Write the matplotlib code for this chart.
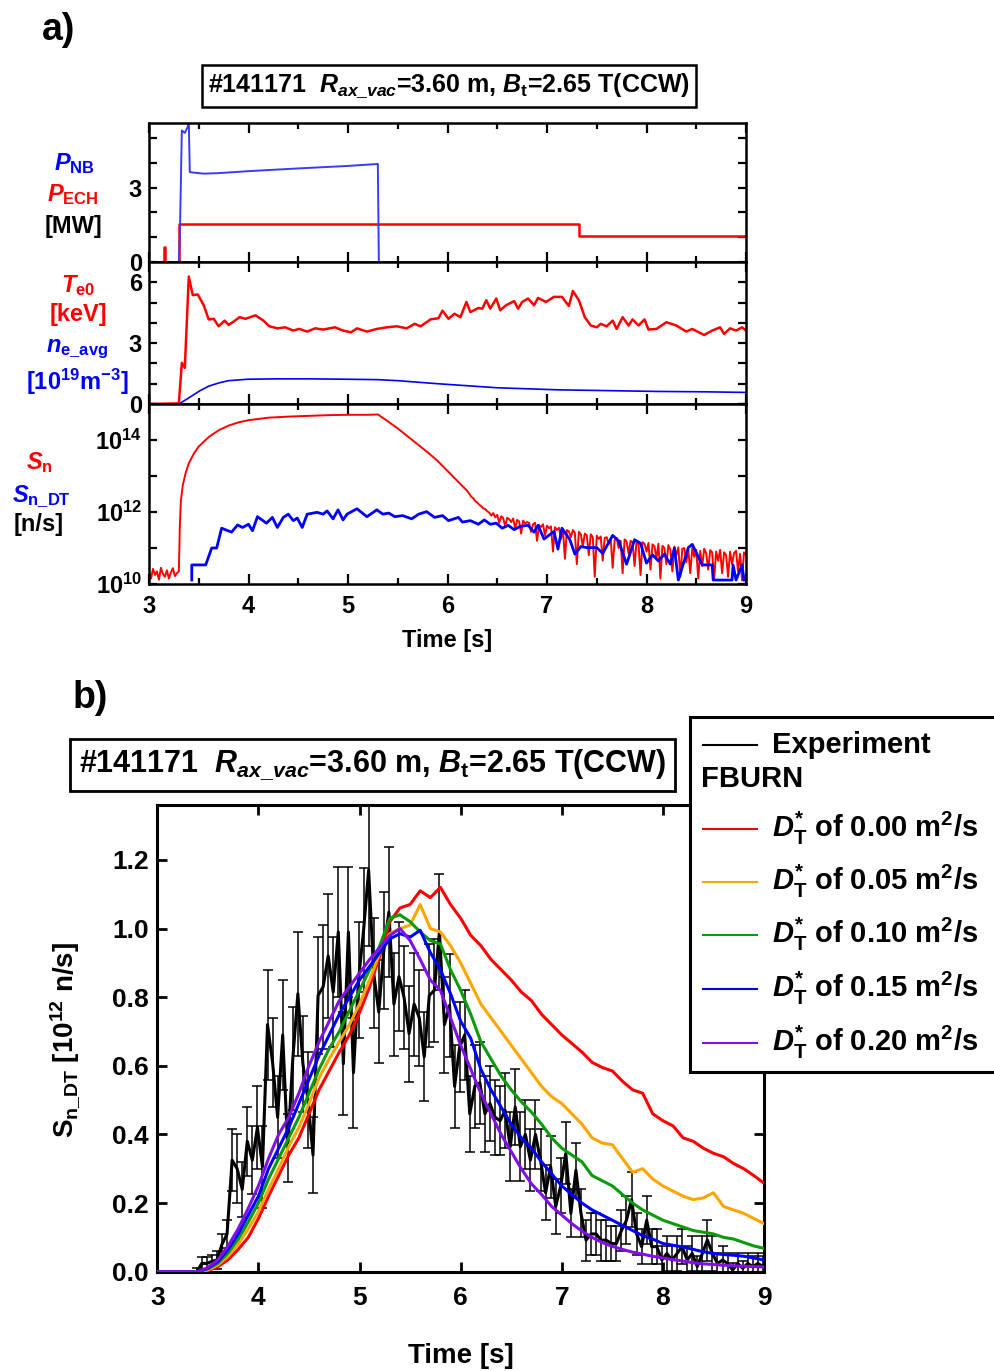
import numpy as np
import matplotlib
matplotlib.use('Agg')
import matplotlib.pyplot as plt
from matplotlib.ticker import FixedLocator, FixedFormatter, MultipleLocator, NullLocator

plt.rcParams['font.family'] = ['Liberation Sans', 'DejaVu Sans']
plt.rcParams['font.weight'] = 'bold'
plt.rcParams['mathtext.fontset'] = 'custom'
plt.rcParams['mathtext.rm'] = 'Liberation Sans:bold'
plt.rcParams['mathtext.it'] = 'Liberation Sans:bold:italic'
plt.rcParams['mathtext.bf'] = 'Liberation Sans:bold'
plt.rcParams['mathtext.sf'] = 'Liberation Sans:bold'

# ---------------- panel a data ----------------
# heating power [MW]
pnb_t = [3.00, 3.30, 3.31, 3.33, 3.36, 3.39, 3.40, 3.41, 3.45, 3.55, 3.70, 4.00, 4.50, 5.00, 5.30, 5.31, 9.00]
pnb = [0.0, 0.0, 1.0, 5.30, 5.20, 5.45, 5.65, 3.62, 3.60, 3.56, 3.58, 3.66, 3.77, 3.87, 3.95, 0.0, 0.0]
pech_t = [3.00, 3.155, 3.155, 3.165, 3.165, 3.30, 3.30, 7.32, 7.32, 9.00]
pech = [0.0, 0.0, 0.60, 0.60, 0.0, 0.0, 1.55, 1.55, 1.04, 1.04]

# central electron temperature [keV]
te_t = [3.00, 3.30, 3.33, 3.36, 3.40, 3.44, 3.49, 3.55, 3.60, 3.65,
        3.70, 3.76, 3.80, 3.85, 3.91, 3.97, 4.07, 4.15, 4.21, 4.29,
        4.37, 4.45, 4.51, 4.59, 4.67, 4.75, 4.87, 4.95, 5.03, 5.09,
        5.19, 5.29, 5.39, 5.49, 5.59, 5.67, 5.73, 5.83, 5.91, 5.95,
        6.01, 6.07, 6.13, 6.19, 6.23, 6.31, 6.35, 6.39, 6.43, 6.49,
        6.53, 6.59, 6.67, 6.71, 6.75, 6.81, 6.87, 6.91, 6.99, 7.07,
        7.15, 7.22, 7.26, 7.32, 7.38, 7.44, 7.50, 7.54, 7.60, 7.66,
        7.70, 7.76, 7.82, 7.86, 7.92, 7.98, 8.02, 8.10, 8.20, 8.30,
        8.40, 8.46, 8.58, 8.66, 8.74, 8.78, 8.84, 8.90, 8.96, 9.00]
te0 = [0.0, 0.03, 2.03, 1.78, 6.28, 5.37, 5.40, 4.87, 4.17, 4.20,
       3.83, 4.11, 3.90, 4.06, 4.28, 4.20, 4.37, 4.11, 3.83, 3.73,
       3.78, 3.62, 3.70, 3.57, 3.73, 3.67, 3.78, 3.62, 3.53, 3.73,
       3.57, 3.70, 3.78, 3.83, 3.73, 3.95, 3.83, 4.17, 4.23, 4.60,
       4.20, 4.45, 4.28, 5.03, 4.53, 4.73, 4.70, 5.12, 4.70, 5.20,
       4.62, 4.87, 5.07, 4.70, 5.03, 5.20, 4.87, 5.23, 5.03, 5.28,
       5.28, 4.83, 5.57, 5.12, 4.28, 3.87, 3.78, 3.95, 3.83, 4.11,
       3.70, 4.28, 3.87, 4.17, 3.87, 4.17, 3.67, 3.70, 4.03, 3.87,
       3.57, 3.70, 3.40, 3.62, 3.78, 3.45, 3.73, 3.62, 3.78, 3.62]

# line averaged density [1e19 m^-3]
ne_t = [3.00, 3.30, 3.40, 3.51, 3.60, 3.71, 3.80, 3.99, 4.30, 4.62, 5.00,
        5.30, 5.50, 5.90, 6.20, 6.50, 7.10, 7.60, 8.10, 8.60, 9.00]
ne_avg = [0.0, 0.0, 0.30, 0.65, 0.88, 1.05, 1.15, 1.22, 1.24, 1.24, 1.22,
          1.20, 1.15, 1.00, 0.90, 0.80, 0.70, 0.66, 0.62, 0.60, 0.57]

# total neutron rate, log10 [n/s]
sn_pre = [10.30, 10.15, 10.42, 10.25, 10.35, 10.12, 10.45, 10.28, 10.20, 10.38,
          10.15, 10.32, 10.44, 10.22, 10.30]
sn_mid_t = [3.30, 3.31, 3.32, 3.34, 3.37, 3.40, 3.45, 3.50, 3.60, 3.70,
            3.80, 3.90, 4.00, 4.20, 4.40, 4.60, 4.80, 5.00, 5.20, 5.30,
            5.40, 5.50, 5.60, 5.70, 5.80, 5.90, 6.00, 6.10]
sn_mid = [10.35, 11.60, 12.30, 12.75, 13.10, 13.35, 13.62, 13.82, 14.08, 14.27,
          14.40, 14.49, 14.55, 14.62, 14.65, 14.67, 14.69, 14.70, 14.70, 14.71,
          14.52, 14.32, 14.10, 13.88, 13.66, 13.42, 13.14, 12.86]
sn_post = [12.58, 12.50, 12.42, 12.38, 12.30, 12.26, 12.20, 12.16, 12.10, 12.08, 12.02,
           11.98, 11.90, 11.97, 11.85, 11.92, 11.70, 11.88, 11.83, 11.60, 11.84,
           11.80, 11.72, 11.82, 11.55, 11.78, 11.74, 11.40, 11.76, 11.68, 11.72,
           11.70, 11.45, 11.66, 11.70, 11.20, 11.64, 11.58, 11.66, 11.35, 11.62,
           11.55, 11.60, 10.90, 11.58, 11.50, 11.56, 11.25, 11.52, 10.70, 11.50,
           11.46, 11.30, 11.50, 11.42, 10.55, 11.45, 11.38, 11.05, 11.40, 11.35,
           10.80, 11.38, 11.30, 10.20, 11.34, 11.25, 11.32, 10.65, 11.28, 11.30,
           11.10, 11.27, 10.45, 11.22, 11.28, 11.00, 11.20, 10.30, 11.24, 11.18,
           10.85, 11.20, 11.15, 10.50, 11.18, 11.10, 10.25, 11.16, 11.12, 10.90,
           11.14, 10.40, 11.10, 11.05, 10.70, 11.12, 10.15, 11.06, 11.00, 10.55,
           11.08, 10.95, 10.35, 11.04, 10.80, 11.02, 10.20, 10.98, 11.00, 10.60,
           10.96, 10.30, 11.00, 10.75, 10.95, 10.15, 10.92, 10.50, 10.98, 10.85,
           10.40, 10.94, 10.88, 10.12, 10.90, 10.65, 10.95, 10.30, 10.88, 10.80,
           10.20, 10.90, 10.55, 10.86, 10.92, 10.35, 10.84, 10.10, 10.88, 10.80]

# DT neutron rate, log10 [n/s]
sndt_t = [3.43, 3.43, 3.57, 3.63, 3.68, 3.73, 3.83, 3.89, 3.94, 4.00,
          4.04, 4.09, 4.18, 4.24, 4.29, 4.35, 4.40, 4.45, 4.49, 4.54,
          4.59, 4.69, 4.75, 4.79, 4.85, 4.90, 4.95, 4.99, 5.09, 5.19,
          5.29, 5.35, 5.41, 5.47, 5.55, 5.64, 5.71, 5.79, 5.87, 5.95,
          6.01, 6.11, 6.15, 6.23, 6.31, 6.37, 6.43, 6.49, 6.55, 6.61,
          6.67, 6.73, 6.81, 6.87, 6.91, 6.97, 7.07, 7.11, 7.15, 7.23,
          7.28, 7.34, 7.40, 7.50, 7.56, 7.66, 7.72, 7.80, 7.88, 7.94,
          8.00, 8.06, 8.12, 8.18, 8.24, 8.28, 8.32, 8.42, 8.46, 8.56,
          8.66, 8.67, 8.86, 8.87, 8.90, 8.96, 8.98]
sndt_log = [10.11, 10.53, 10.53, 11.00, 11.00, 11.55, 11.44, 11.64, 11.57, 11.66,
            11.48, 11.87, 11.69, 11.85, 11.57, 11.85, 11.94, 11.76, 11.83, 11.57,
            11.94, 11.99, 11.94, 12.03, 11.81, 12.06, 11.78, 11.94, 12.09, 11.87,
            12.06, 11.94, 11.97, 11.87, 11.90, 11.81, 11.94, 12.01, 11.85, 11.90,
            11.76, 11.85, 11.72, 11.76, 11.66, 11.78, 11.66, 11.69, 11.55, 11.63,
            11.51, 11.60, 11.63, 11.44, 11.63, 11.25, 11.46, 10.97, 11.55, 11.23,
            10.83, 11.04, 11.01, 11.01, 10.85, 11.35, 11.20, 10.55, 11.23, 11.13,
            10.58, 10.81, 10.64, 10.83, 10.55, 11.00, 10.11, 11.01, 11.10, 10.53,
            10.53, 10.11, 10.11, 10.53, 10.11, 10.53, 10.11]

# ---------------- panel b data ----------------
exp_v = [0.0, 0.024, 0.024, 0.03, 0.034, 0.08, 0.11, 0.325, 0.30, 0.24,
         0.38, 0.325, 0.42, 0.306, 0.72, 0.61, 0.45, 0.69, 0.36, 0.62,
         0.81, 0.606, 0.50, 0.34, 0.805, 0.83, 0.92, 0.815, 0.99, 0.606,
         0.99, 0.58, 0.85, 0.995, 1.17, 0.87, 0.757, 0.936, 1.048, 0.78,
         0.86, 0.80, 0.694, 0.78, 0.74, 0.626, 0.805, 0.82, 0.99, 0.72,
         0.776, 0.54, 0.655, 0.69, 0.46, 0.54, 0.55, 0.46, 0.49, 0.45,
         0.44, 0.47,
         0.364, 0.48, 0.364, 0.40, 0.325, 0.40, 0.325, 0.23, 0.306, 0.19,
         0.25, 0.345, 0.17, 0.296, 0.17, 0.092, 0.11, 0.11, 0.092, 0.092,
         0.082, 0.082, 0.12, 0.15, 0.21, 0.11, 0.073, 0.15, 0.073, 0.073,
         0.034, 0.053, 0.034, 0.053, 0.073, 0.034, 0.053, 0.015, 0.053, 0.092,
         0.053, 0.024, 0.034, 0.024, 0.005, 0.024, 0.01, 0.024, 0.015, 0.024,
         0.015]
exp_err = [0.01, 0.02, 0.02, 0.02, 0.025, 0.03, 0.04, 0.09, 0.10, 0.08,
           0.10, 0.10, 0.12, 0.12, 0.16, 0.13, 0.12, 0.16, 0.10, 0.15,
           0.18, 0.14, 0.14, 0.11, 0.17, 0.18, 0.18, 0.16, 0.19, 0.15,
           0.19, 0.16, 0.17, 0.18, 0.22, 0.16, 0.15, 0.17, 0.19, 0.15,
           0.16, 0.15, 0.14, 0.15, 0.14, 0.13, 0.15, 0.15, 0.17, 0.14,
           0.15, 0.12, 0.13, 0.13, 0.11, 0.12, 0.12, 0.11, 0.11, 0.11,
           0.10, 0.11,
           0.10, 0.11, 0.10, 0.10, 0.09, 0.10, 0.09, 0.08, 0.09, 0.08,
           0.08, 0.09, 0.07, 0.08, 0.07, 0.06, 0.06, 0.06, 0.06, 0.06,
           0.05, 0.05, 0.06, 0.07, 0.08, 0.06, 0.05, 0.07, 0.05, 0.05,
           0.04, 0.05, 0.04, 0.05, 0.05, 0.04, 0.05, 0.03, 0.05, 0.06,
           0.05, 0.03, 0.04, 0.03, 0.02, 0.03, 0.02, 0.03, 0.03, 0.03,
           0.03]
exp_t = 3.39 + 0.05 * np.arange(len(exp_v))   # 50 ms sampling

# FBURN results on a 0.1 s grid, 3.0 ... 9.0 s
fb_t = np.round(np.arange(3.0, 9.001, 0.1), 2)
fb_d000 = [0, 0, 0, 0, 0, 0.003, 0.015, 0.035, 0.065, 0.10,
           0.155, 0.22, 0.28, 0.34, 0.39, 0.46, 0.53, 0.585, 0.64, 0.69,
           0.755, 0.83, 0.92, 1.02, 1.06, 1.07, 1.11, 1.09, 1.12, 1.07,
           1.03, 0.98, 0.95, 0.91, 0.88, 0.85, 0.815, 0.79, 0.75, 0.72,
           0.69, 0.665, 0.64, 0.61, 0.595, 0.585, 0.555, 0.53, 0.52, 0.46,
           0.44, 0.425, 0.39, 0.38, 0.36, 0.345, 0.335, 0.315, 0.30, 0.28,
           0.258]
fb_d005 = [0, 0, 0, 0, 0, 0.005, 0.02, 0.045, 0.08, 0.125,
           0.175, 0.24, 0.30, 0.365, 0.42, 0.49, 0.565, 0.62, 0.67, 0.72,
           0.78, 0.85, 0.93, 0.985, 1.00, 1.01, 1.07, 1.00, 0.99, 0.95,
           0.90, 0.84, 0.78, 0.74, 0.70, 0.66, 0.62, 0.58, 0.54, 0.51,
           0.49, 0.46, 0.43, 0.39, 0.375, 0.37, 0.33, 0.29, 0.30, 0.27,
           0.25, 0.235, 0.22, 0.21, 0.215, 0.23, 0.19, 0.18, 0.17, 0.155,
           0.14]
fb_d010 = [0, 0, 0, 0, 0, 0.008, 0.025, 0.055, 0.095, 0.145,
           0.20, 0.27, 0.33, 0.39, 0.45, 0.52, 0.59, 0.65, 0.70, 0.76,
           0.82, 0.88, 0.95, 1.03, 1.04, 1.02, 0.99, 0.965, 0.955, 0.88,
           0.82, 0.75, 0.67, 0.62, 0.57, 0.53, 0.495, 0.465, 0.43, 0.39,
           0.36, 0.34, 0.32, 0.28, 0.265, 0.25, 0.225, 0.20, 0.18, 0.165,
           0.15, 0.14, 0.13, 0.12, 0.115, 0.11, 0.10, 0.095, 0.085, 0.075,
           0.068]
fb_d015 = [0, 0, 0, 0, 0, 0.01, 0.03, 0.065, 0.11, 0.165,
           0.22, 0.30, 0.36, 0.42, 0.49, 0.56, 0.63, 0.69, 0.75, 0.80,
           0.85, 0.89, 0.93, 0.97, 0.985, 0.975, 0.995, 0.93, 0.88, 0.81,
           0.73, 0.68, 0.59, 0.53, 0.48, 0.43, 0.39, 0.36, 0.32, 0.285,
           0.25, 0.225, 0.20, 0.18, 0.165, 0.15, 0.135, 0.12, 0.105, 0.095,
           0.082, 0.077, 0.072, 0.065, 0.058, 0.053, 0.05, 0.048, 0.045, 0.04,
           0.034]
fb_d020 = [0, 0, 0, 0, 0, 0.012, 0.035, 0.075, 0.125, 0.185,
           0.25, 0.33, 0.40, 0.45, 0.52, 0.60, 0.67, 0.73, 0.79, 0.83,
           0.87, 0.91, 0.945, 0.98, 1.00, 0.965, 0.91, 0.85, 0.82, 0.74,
           0.66, 0.59, 0.52, 0.46, 0.40, 0.35, 0.30, 0.256, 0.225, 0.19,
           0.165, 0.14, 0.118, 0.10, 0.085, 0.074, 0.065, 0.057, 0.051, 0.045,
           0.04, 0.035, 0.031, 0.026, 0.023, 0.021, 0.019, 0.017, 0.016, 0.015,
           0.014]
fb_curves = [fb_d000, fb_d005, fb_d010, fb_d015, fb_d020]
fb_labels = ['0.00', '0.05', '0.10', '0.15', '0.20']
fb_colors = ['#ff0000', '#ffa500', '#0a9a0a', '#0000ff', '#7f10e8']

title_txt = r'#141171  $R_{ax\_vac}$=3.60 m, $B_\mathrm{t}$=2.65 T(CCW)'

# ---------------- figure ----------------
W, H = 994, 1371
fig = plt.figure(figsize=(W / 100, H / 100), dpi=100)


def box(l, t, r, b):
    return [l / W, 1 - b / H, (r - l) / W, (b - t) / H]


def fx(px):
    return px / W


def fy(py):
    return 1 - py / H


def style_a(ax):
    for s in ax.spines.values():
        s.set_linewidth(1.8)
    ax.set_xlim(3, 9)
    ax.xaxis.set_major_locator(MultipleLocator(1))
    ax.xaxis.set_minor_locator(MultipleLocator(0.5))
    ax.tick_params(which='both', direction='in', top=True, right=True,
                   width=1.6, labelsize=17, pad=5)
    ax.tick_params(axis='x', which='major', length=7, pad=8)
    ax.tick_params(axis='x', which='minor', length=4.5)
    ax.tick_params(axis='y', which='both', length=6)


ax1 = fig.add_axes(box(149, 123, 746, 262))
ax2 = fig.add_axes(box(149, 262, 746, 404))
ax3 = fig.add_axes(box(149, 404, 746, 584))

# top: heating power
ax1.plot(pech_t, pech, color='#ff0000', lw=1.8)
ax1.plot(pnb_t, pnb, color='#3a3aff', lw=1.4)
ax1.set_ylim(0, 5.6)
ax1.yaxis.set_major_locator(FixedLocator([0, 3]))
ax1.yaxis.set_minor_locator(FixedLocator([1, 2, 4, 5]))
style_a(ax1)
ax1.tick_params(labelbottom=False)

# middle: Te0 and ne
ax2.plot(ne_t, ne_avg, color='#0000ff', lw=1.2)
ax2.plot(te_t, te0, color='#ff0000', lw=1.8)
ax2.set_ylim(0, 7)
ax2.yaxis.set_major_locator(FixedLocator([0, 3, 6]))
ax2.yaxis.set_minor_locator(FixedLocator([1, 2, 4, 5]))
style_a(ax2)
ax2.tick_params(labelbottom=False)

# bottom: neutron rates (log)
sn_t = np.concatenate([np.arange(3.00, 3.29, 0.02), sn_mid_t, np.arange(6.20, 9.001, 0.02)])
sn_log = np.array(sn_pre + sn_mid + sn_post)
ax3.plot(sn_t, 10 ** sn_log, color='#ff0000', lw=1.4)
ax3.plot(sndt_t, 10 ** np.array(sndt_log), color='#0000ff', lw=2.0)
ax3.set_yscale('log')
ax3.set_ylim(1e10, 1e15)
ax3.yaxis.set_major_locator(FixedLocator([1e10, 1e11, 1e12, 1e13, 1e14, 1e15]))
ax3.yaxis.set_major_formatter(FixedFormatter([r'$10^{10}$', '', r'$10^{12}$', '', r'$10^{14}$', '']))
ax3.yaxis.set_minor_locator(NullLocator())
style_a(ax3)
ax3.set_xlabel('Time [s]', fontsize=17, fontweight='bold', labelpad=8)

# side labels of panel a
side = [('$P_\\mathrm{NB}$', '#0000ff', 74, 164),
        ('$P_\\mathrm{ECH}$', '#ff0000', 73, 195),
        ('[MW]', 'black', 74, 227),
        ('$T_\\mathrm{e0}$', '#ff0000', 78, 286),
        ('[keV]', '#ff0000', 78, 314),
        ('$n_\\mathrm{e\\_avg}$', '#0000ff', 77, 349),
        ('[10$^{19}$m$^{-3}$]', '#0000ff', 77, 382),
        ('$S_\\mathrm{n}$', '#ff0000', 39, 463),
        ('$S_\\mathrm{n\\_DT}$', '#0000ff', 41, 497),
        ('[n/s]', 'black', 39, 525)]
for txt, col, px, py in side:
    fig.text(fx(px), fy(py), txt, color=col, fontsize=17, fontweight='bold',
             ha='center', va='center')

fig.text(fx(42), fy(40), 'a)', fontsize=27, fontweight='bold', ha='left', va='baseline')
fig.text(fx(449), fy(86), title_txt, fontsize=18, fontweight='bold', ha='center', va='center',
         bbox=dict(boxstyle='square,pad=0.25', fc='white', ec='black', lw=1.8))

# ---------------- panel b ----------------
axb = fig.add_axes(box(157.3, 805, 764, 1271.7))
axb.errorbar(exp_t, exp_v, yerr=exp_err, color='black', lw=2.2, elinewidth=1.1,
             capsize=3.6, capthick=1.1, zorder=2)
for vals, col in zip(fb_curves, fb_colors):
    axb.plot(fb_t, vals, color=col, lw=2.2, zorder=3)
axb.set_xlim(3, 9)
axb.set_ylim(0, 1.36)
axb.xaxis.set_major_locator(MultipleLocator(1))
axb.yaxis.set_major_locator(MultipleLocator(0.2))
axb.yaxis.set_major_formatter(plt.FormatStrFormatter('%.1f'))
for s in axb.spines.values():
    s.set_linewidth(2.2)
axb.tick_params(which='both', direction='in', top=True, right=True, length=7,
                width=2, labelsize=19)
axb.tick_params(axis='x', pad=10)
axb.tick_params(axis='y', pad=6)
axb.set_xlabel('Time [s]', fontsize=20, fontweight='bold', labelpad=24)
fig.text(fx(65), fy(1040), r'S$_\mathrm{n\_DT}$ [10$^{12}$ n/s]', fontsize=20,
         fontweight='bold', rotation=90, ha='center', va='center')

fig.text(fx(73), fy(708), 'b)', fontsize=27, fontweight='bold', ha='left', va='baseline')
fig.text(fx(372.5), fy(765), title_txt, fontsize=22, fontweight='bold', ha='center', va='center',
         bbox=dict(boxstyle='square,pad=0.3', fc='white', ec='black', lw=2.0))

# legend box (cut by the right edge of the figure)
lax = fig.add_axes(box(690, 717, 994, 1072))
lax.set_xlim(0, 1)
lax.set_ylim(0, 1)
lax.set_xticks([])
lax.set_yticks([])
for s in lax.spines.values():
    s.set_linewidth(2.2)
lax.spines['right'].set_visible(False)


def ly(py):
    return (1072 - py) / 355


lax.plot([0.043, 0.220], [ly(745), ly(745)], color='black', lw=1.5)
lax.text(0.269, ly(753), 'Experiment', fontsize=21, fontweight='bold', va='baseline')
lax.text(0.035, ly(787), 'FBURN', fontsize=21, fontweight='bold', va='baseline')
row_y = [829, 882, 935, 989, 1043]
for lab, col, py in zip(fb_labels, fb_colors, row_y):
    lax.plot([0.043, 0.220], [ly(py), ly(py)], color=col, lw=1.5)
    lax.text(0.269, ly(py + 8), r'$D^{*}_\mathrm{T}$ of ' + lab + r' m$^2$/s',
             fontsize=21, fontweight='bold', va='baseline')

fig.savefig('out.png', dpi=100)
